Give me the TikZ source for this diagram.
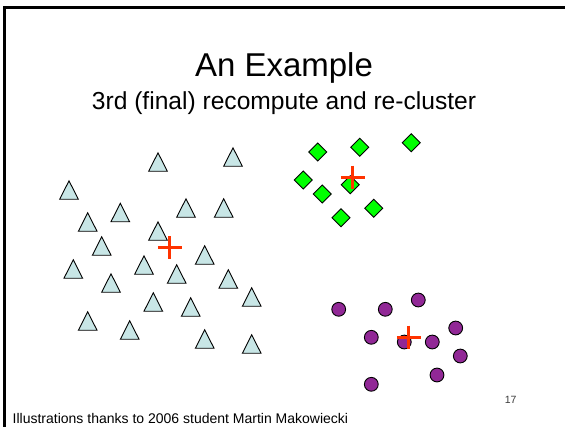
\documentclass[tikz,border=0pt]{standalone}
\usepackage{fontspec}
\setmainfont{Liberation Sans}
\definecolor{tricol}{RGB}{200,230,230}
\definecolor{diacol}{RGB}{0,255,0}
\definecolor{dotcol}{RGB}{145,40,150}
\definecolor{pluscol}{RGB}{255,51,0}
\definecolor{pagecol}{RGB}{60,60,60}
\tikzset{
  tri/.style={draw=black,fill=tricol,line width=0.9pt,line join=miter},
  dia/.style={draw=black,fill=diacol,line width=0.9pt},
  dot/.style={draw=black,fill=dotcol,line width=0.9pt},
  cplus/.style={draw=pluscol,line width=3pt},
  frameline/.style={draw=black,line width=3pt}
}
\begin{document}
\begin{tikzpicture}[x=1pt,y=-1pt]
\useasboundingbox (0,0) rectangle (565,426);
\fill[white] (0,0) rectangle (565,426);
\draw[frameline] (4.2,430) -- (4.2,7.2) -- (570,7.2);
% titles
\node[anchor=base,inner sep=0pt,font=\fontsize{33}{38}\selectfont] (title) at (284,76) {An Example};
\node[anchor=base,inner sep=0pt,font=\fontsize{24.6}{29}\selectfont] (subtitle) at (284,109) {3rd (final) recompute and re-cluster};
\node[anchor=base west,inner sep=0pt,font=\fontsize{14}{17}\selectfont] (footer) at (12.5,423.3) {Illustrations thanks to 2006 student Martin Makowiecki};
\node[anchor=base,inner sep=0pt,text=pagecol,font=\fontsize{10.5}{12}\selectfont] (page) at (510.7,403) {17};
% triangles
\foreach \x/\y in {158/162,233/157,69/190,120.3/212.5,186/208,223.7/208,87.7/222,158/231,101.7/246,204.7/255,73.3/269,144/265,176.7/274,111/283,228.3/279,251.7/297,153.3/302,190.7/307,87.7/321,129.7/330,204.7/339,251.7/344}
  \draw[tri] (\x,\y-9.2) -- (\x+9.3,\y+9.2) -- (\x-9.3,\y+9.2) -- cycle;
% diamonds
\foreach \x/\y in {317.7/152,359.7/147.3,411.3/142.7,303.3/180,322.3/194,350.3/184.7,341/217.7,373.7/208.3}
  \draw[dia] (\x,\y-9) -- (\x+9,\y) -- (\x,\y+9) -- (\x-9,\y) -- cycle;
% circles
\foreach \x/\y in {338.7/309.3,385.3/309.3,418.3/300,371.3/337.3,404.3/342,432.3/342,455.7/328,460.3/356,437/375,371.3/384.3}
  \draw[dot] (\x,\y) circle[radius=6.9];
% centroids
\foreach \x/\y in {169.7/247.7,352.7/177.3,408.7/337.3}{
  \draw[cplus] (\x-11.8,\y) -- (\x+11.8,\y);
  \draw[cplus] (\x,\y-11.6) -- (\x,\y+11.6);
}
\end{tikzpicture}
\end{document}
